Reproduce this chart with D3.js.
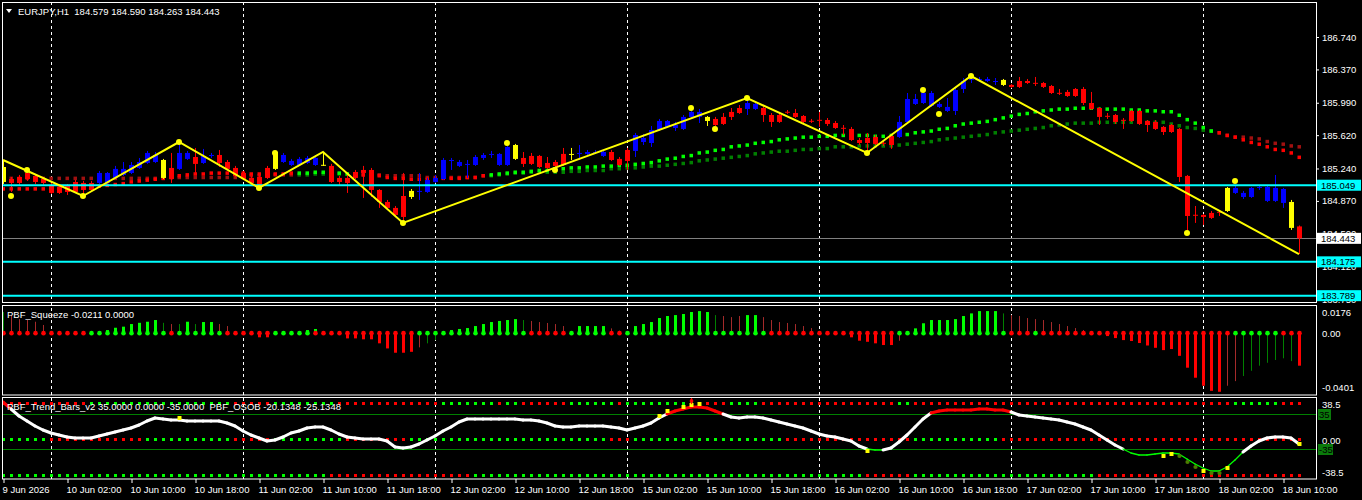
<!DOCTYPE html>
<html>
<head>
<meta charset="utf-8">
<script src="https://cdn.jsdelivr.net/npm/d3@7"></script>
<style>
  body { margin: 0; background: #000; }
  text { font-family: "Liberation Sans", Arial, sans-serif; font-size: 9.5px; fill: #fff; }
</style>
</head>
<body>
<script>
// EURJPY H1, bars 9 Jun 18:00 .. 18 Jun 12:00  [open, high, low, close, tone]
var candles = [
[185.257,185.337,185.063,185.086,'y'],[185.120,185.143,184.972,185.075,'r'],[185.143,185.166,185.052,185.075,'r'],[185.189,185.223,185.098,185.120,'r'],[185.155,185.177,185.063,185.086,'r'],
[185.120,185.143,185.052,185.075,'r'],[185.052,185.075,184.949,184.961,'r'],[185.029,185.052,184.949,184.961,'r'],[185.052,185.063,184.938,184.972,'r'],[185.086,185.109,184.961,184.972,'r'],
[185.075,185.098,184.926,184.995,'r'],[185.075,185.098,184.984,184.995,'r'],[185.075,185.212,185.063,185.189,'b'],[185.075,185.200,185.063,185.189,'b'],[185.132,185.269,185.120,185.235,'b'],
[185.166,185.314,185.155,185.235,'b'],[185.189,185.314,185.177,185.280,'b'],[185.246,185.360,185.235,185.314,'b'],[185.303,185.440,185.292,185.417,'b'],[185.314,185.428,185.303,185.394,'b'],
[185.337,185.349,185.120,185.132,'y'],[185.246,185.417,185.075,185.120,'r'],[185.235,185.542,185.223,185.417,'b'],[185.349,185.440,185.337,185.417,'b'],[185.371,185.474,185.189,185.292,'r'],
[185.303,185.463,185.292,185.383,'b'],[185.392,185.417,185.360,185.394,'b'],[185.394,185.451,185.257,185.303,'r'],[185.314,185.337,185.223,185.235,'r'],[185.246,185.269,185.143,185.155,'r'],
[185.189,185.212,185.109,185.120,'r'],[185.132,185.155,185.052,185.075,'r'],[185.143,185.166,185.018,185.052,'r'],[185.246,185.269,185.120,185.132,'r'],[185.235,185.440,185.223,185.428,'y'],
[185.314,185.417,185.303,185.394,'b'],[185.280,185.349,185.269,185.326,'b'],[185.280,185.371,185.269,185.349,'b'],[185.303,185.383,185.292,185.360,'b'],[185.280,185.383,185.269,185.360,'b'],
[185.282,185.428,185.269,185.280,'y'],[185.269,185.292,185.075,185.086,'r'],[185.132,185.155,185.052,185.086,'r'],[185.132,185.166,184.961,185.075,'r'],[185.200,185.223,185.120,185.132,'r'],
[185.223,185.269,184.904,185.189,'r'],[185.223,185.246,184.915,184.995,'r'],[184.995,185.006,184.790,184.858,'r'],[184.858,184.881,184.767,184.790,'r'],[184.790,184.812,184.698,184.710,'r'],
[184.926,185.189,184.619,184.687,'r'],[184.915,185.006,184.892,184.984,'y'],[184.982,185.189,184.881,184.984,'b'],[184.972,185.132,184.961,185.109,'b'],[185.086,185.166,185.075,185.132,'b'],
[185.120,185.360,185.109,185.337,'b'],[185.335,185.360,185.223,185.337,'b'],[185.269,185.337,185.257,185.314,'b'],[185.290,185.337,185.132,185.292,'b'],[185.280,185.394,185.269,185.371,'b'],
[185.360,185.417,185.337,185.394,'b'],[185.404,185.440,185.360,185.406,'b'],[185.280,185.417,185.269,185.406,'b'],[185.280,185.497,185.269,185.485,'b'],[185.508,185.520,185.337,185.349,'y'],
[185.360,185.428,185.257,185.292,'r'],[185.383,185.417,185.280,185.292,'r'],[185.383,185.394,185.246,185.257,'r'],[185.303,185.371,185.235,185.246,'r'],[185.314,185.337,185.257,185.269,'r'],
[185.406,185.474,185.269,185.280,'r'],[185.404,185.474,185.337,185.406,'y'],[185.415,185.508,185.337,185.417,'b'],[185.406,185.451,185.383,185.428,'b'],[185.426,185.451,185.406,185.428,'b'],
[185.383,185.451,185.371,185.428,'b'],[185.428,185.451,185.326,185.337,'r'],[185.349,185.371,185.269,185.280,'r'],[185.451,185.474,185.223,185.326,'r'],[185.440,185.645,185.371,185.622,'b'],
[185.542,185.633,185.508,185.588,'b'],[185.531,185.725,185.485,185.679,'b'],[185.679,185.805,185.668,185.782,'b'],[185.714,185.793,185.702,185.782,'b'],[185.702,185.771,185.668,185.736,'b'],
[185.691,185.850,185.679,185.828,'b'],[185.828,185.907,185.816,185.885,'b'],[185.828,185.919,185.759,185.885,'b'],[185.828,185.839,185.725,185.782,'y'],[185.805,185.828,185.725,185.736,'r'],
[185.828,185.873,185.736,185.748,'r'],[185.885,185.930,185.793,185.828,'r'],[185.930,185.964,185.862,185.873,'r'],[185.919,186.044,185.850,185.987,'b'],[185.919,185.998,185.907,185.976,'b'],
[185.930,185.953,185.771,185.850,'r'],[185.850,185.873,185.714,185.771,'r'],[185.850,185.885,185.759,185.771,'r'],[185.887,185.907,185.862,185.885,'r'],[185.873,185.919,185.816,185.828,'r'],
[185.839,185.850,185.759,185.771,'r'],[185.784,185.805,185.759,185.782,'r'],[185.795,185.885,185.714,185.793,'r'],[185.793,185.816,185.725,185.748,'r'],[185.759,185.782,185.691,185.702,'r'],
[185.704,185.736,185.622,185.702,'r'],[185.691,185.714,185.554,185.565,'r'],[185.565,185.588,185.508,185.531,'r'],[185.588,185.645,185.417,185.531,'r'],[185.599,185.622,185.508,185.520,'r'],
[185.533,185.554,185.497,185.531,'r'],[185.611,185.633,185.463,185.508,'r'],[185.599,185.839,185.588,185.771,'b'],[185.771,186.101,185.759,186.033,'b'],[185.976,186.090,185.964,186.033,'b'],
[185.987,186.124,185.976,186.101,'b'],[185.953,186.124,185.942,186.101,'b'],[185.942,185.998,185.930,185.976,'b'],[185.896,186.044,185.885,185.942,'b'],[185.896,186.158,185.850,186.135,'b'],
[186.147,186.272,186.101,186.238,'b'],[186.259,186.295,186.215,186.261,'b'],[186.259,186.284,186.227,186.261,'b'],[186.238,186.284,186.227,186.261,'b'],[186.236,186.272,186.193,186.238,'b'],
[186.250,186.261,186.181,186.193,'y'],[186.193,186.204,186.158,186.170,'r'],[186.238,186.284,186.158,186.170,'r'],[186.238,186.261,186.204,186.215,'r'],[186.217,186.284,186.181,186.215,'r'],
[186.215,186.227,186.158,186.170,'r'],[186.181,186.193,186.090,186.101,'r'],[186.103,186.147,186.078,186.101,'r'],[186.113,186.136,186.056,186.067,'r'],[186.147,186.158,186.056,186.067,'r'],
[186.147,186.170,185.964,185.987,'r'],[185.987,186.113,185.907,185.919,'r'],[185.930,185.942,185.736,185.828,'r'],[185.841,185.873,185.805,185.839,'r'],[185.850,185.862,185.748,185.771,'r'],
[185.795,185.816,185.691,185.793,'r'],[185.896,185.907,185.771,185.782,'r'],[185.896,185.907,185.736,185.748,'r'],[185.782,185.793,185.656,185.736,'r'],[185.771,185.793,185.679,185.691,'r'],
[185.714,185.725,185.622,185.656,'r'],[185.736,185.748,185.645,185.656,'r'],[185.691,185.702,185.086,185.143,'r'],[185.155,185.166,184.516,184.698,'r'],[184.712,184.812,184.619,184.710,'r'],
[184.710,184.721,184.596,184.687,'r'],[184.733,184.755,184.664,184.676,'r'],[184.746,184.767,184.698,184.744,'r'],[184.755,185.029,184.744,185.018,'y'],[184.961,185.052,184.949,185.018,'b'],
[184.915,184.984,184.892,184.961,'b'],[184.915,185.029,184.904,185.018,'b'],[185.027,185.052,184.995,185.029,'b'],[184.870,185.040,184.858,185.029,'b'],[184.870,185.166,184.858,185.018,'b'],
[184.847,185.018,184.790,185.006,'b'],[184.858,184.881,184.539,184.562,'y'],[184.579,184.590,184.263,184.443,'r']
];

var maFast = [
185.01,185.01,185.01,185.01,185.01,185.01,185.01,185.02,185.02,185.03,
185.03,185.04,185.04,185.05,185.06,185.07,185.09,185.10,185.11,185.12,
185.13,185.14,185.16,185.17,185.18,185.18,185.19,185.19,185.19,185.19,
185.19,185.18,185.18,185.18,185.18,185.18,185.19,185.19,185.19,185.20,
185.20,185.19,185.19,185.18,185.18,185.17,185.17,185.16,185.14,185.13,
185.13,185.12,185.12,185.12,185.12,185.13,185.13,185.13,185.14,185.14,
185.16,185.17,185.18,185.19,185.20,185.20,185.21,185.22,185.22,185.24,
185.24,185.25,185.25,185.26,185.26,185.27,185.27,185.28,185.28,185.29,
185.30,185.31,185.33,185.35,185.36,185.38,185.39,185.42,185.43,185.45,
185.46,185.49,185.50,185.51,185.53,185.54,185.55,185.57,185.58,185.59,
185.60,185.60,185.61,185.61,185.62,185.62,185.62,185.62,185.62,185.61,
185.61,185.62,185.63,185.63,185.65,185.66,185.67,185.69,185.70,185.73,
185.75,185.76,185.77,185.78,185.80,185.82,185.84,185.86,185.87,185.89,
185.90,185.91,185.92,185.92,185.93,185.93,185.93,185.92,185.92,185.92,
185.92,185.91,185.91,185.90,185.90,185.89,185.89,185.85,185.80,185.76,
185.71,185.67,185.65,185.62,185.60,185.57,185.54,185.52,185.49,185.46,
185.45,185.42,185.37];

var maSlow = [
185.13,185.13,185.13,185.13,185.13,185.13,185.13,185.13,185.13,185.13,
185.13,185.13,185.13,185.13,185.13,185.13,185.13,185.13,185.13,185.13,
185.13,185.14,185.14,185.14,185.14,185.14,185.14,185.14,185.14,185.14,
185.14,185.16,185.16,185.16,185.17,185.17,185.17,185.17,185.17,185.18,
185.18,185.18,185.18,185.18,185.17,185.17,185.17,185.17,185.16,185.16,
185.16,185.16,185.16,185.14,185.14,185.14,185.14,185.14,185.14,185.14,
185.16,185.16,185.17,185.18,185.19,185.19,185.20,185.20,185.20,185.20,
185.20,185.21,185.21,185.22,185.22,185.22,185.24,185.24,185.25,185.25,
185.26,185.27,185.27,185.28,185.29,185.30,185.31,185.33,185.34,185.35,
185.36,185.37,185.38,185.39,185.41,185.42,185.43,185.44,185.44,185.45,
185.46,185.46,185.47,185.47,185.49,185.49,185.49,185.50,185.50,185.50,
185.50,185.50,185.51,185.52,185.53,185.54,185.55,185.57,185.58,185.59,
185.60,185.61,185.62,185.63,185.65,185.66,185.67,185.68,185.69,185.70,
185.71,185.73,185.74,185.75,185.76,185.76,185.76,185.77,185.77,185.77,
185.77,185.77,185.77,185.77,185.77,185.77,185.75,185.73,185.71,185.70,
185.68,185.67,185.65,185.62,185.60,185.60,185.59,185.58,185.55,185.53,
185.52,185.50,185.49];

// trend state of the MA pair, as runs: [state, bars]
var maTrendRuns = [['dn',37],['up',7],['dn',17],['up',91],['dn',11]];

var zigzag = [[0,185.337],[10,184.926],[22,185.542],[32,185.018],[40,185.428],[50,184.619],[93,186.044],[108,185.417],[121,186.295],[162,184.263]];
var signalDots = [[1,184.926],[3,185.223],[10,184.926],[22,185.542],[32,185.018],[34,185.417],[50,184.619],[63,185.531],[69,185.223],
  [86,185.930],[89,185.691],[93,186.044],[108,185.417],[115,186.136],[117,185.862],[121,186.295],[148,184.505],[154,185.098]];

var levels = [185.049, 184.175, 183.789];
var bidPrice = 184.443;
var priceTicks = [186.740, 186.370, 185.990, 185.620, 185.240, 184.870, 184.500, 184.120, 183.750];

// PBF_Squeeze: [value, style]  G/R thick bright, g/r thin dark
var squeeze = [
[0.0137,'g'],[0.0117,'r'],[0.0091,'r'],[0.0085,'r'],[0.0074,'r'],[0.0053,'r'],[0,''],[0,''],[0,''],[0,''],
[0,''],[0,''],[0.0008,'G'],[0.0020,'G'],[0.0035,'G'],[0.0042,'G'],[0.0059,'G'],[0.0067,'G'],[0.0074,'G'],[0.0085,'G'],
[0.0067,'g'],[0.0059,'r'],[0.0059,'g'],[0.0074,'G'],[0.0059,'g'],[0.0072,'G'],[0.0072,'G'],[0.0059,'r'],[0.0046,'r'],[0,''],
[0,''],[-0.0008,'R'],[-0.0027,'R'],[-0.0027,'R'],[0,''],[0,''],[0,''],[0.0005,'G'],[0.0020,'G'],[0.0027,'G'],
[0,''],[0,''],[0,''],[-0.0034,'R'],[-0.0034,'R'],[-0.0040,'R'],[-0.0040,'R'],[-0.0066,'R'],[-0.0099,'R'],[-0.0127,'R'],
[-0.0127,'R'],[-0.0121,'R'],[-0.0092,'r'],[-0.0066,'g'],[-0.0045,'g'],[0,''],[0.0020,'G'],[0.0027,'G'],[0.0033,'G'],[0.0046,'G'],
[0.0059,'G'],[0.0072,'G'],[0.0079,'G'],[0.0085,'G'],[0.0091,'G'],[0.0085,'g'],[0.0079,'r'],[0.0072,'r'],[0.0066,'r'],[0.0059,'r'],
[0.0046,'r'],[0,''],[0.0046,'G'],[0.0046,'G'],[0.0046,'G'],[0.0046,'G'],[0.0031,'r'],[0.0016,'r'],[0,''],[0.0046,'G'],
[0.0059,'G'],[0.0072,'G'],[0.0098,'G'],[0.0111,'G'],[0.0117,'G'],[0.0124,'G'],[0.0137,'G'],[0.0143,'G'],[0.0137,'G'],[0.0117,'g'],
[0.0111,'r'],[0.0104,'r'],[0.0111,'r'],[0.0117,'G'],[0.0117,'G'],[0.0104,'r'],[0.0085,'r'],[0.0072,'r'],[0.0066,'r'],[0.0059,'r'],
[0.0046,'r'],[0.0033,'r'],[0,''],[0,''],[0,''],[0,''],[-0.0027,'R'],[-0.0049,'R'],[-0.0056,'R'],[-0.0066,'R'],
[-0.0077,'R'],[-0.0077,'R'],[-0.0049,'r'],[0,''],[0.0031,'G'],[0.0064,'G'],[0.0085,'G'],[0.0085,'G'],[0.0085,'G'],[0.0091,'G'],
[0.0111,'G'],[0.0128,'G'],[0.0143,'G'],[0.0143,'G'],[0.0143,'G'],[0.0128,'g'],[0.0117,'r'],[0.0111,'r'],[0.0098,'r'],[0.0091,'r'],
[0.0085,'r'],[0.0072,'r'],[0.0059,'r'],[0.0046,'r'],[0.0033,'r'],[0.0020,'r'],[0,''],[0,''],[-0.0019,'R'],[-0.0032,'R'],
[-0.0045,'R'],[-0.0051,'R'],[-0.0064,'R'],[-0.0080,'R'],[-0.0095,'R'],[-0.0110,'R'],[-0.0103,'R'],[-0.0147,'R'],[-0.0224,'R'],[-0.0289,'R'],
[-0.0341,'R'],[-0.0374,'R'],[-0.0380,'R'],[-0.0341,'r'],[-0.0311,'r'],[-0.0278,'g'],[-0.0244,'g'],[-0.0211,'g'],[-0.0192,'g'],[-0.0174,'g'],
[-0.0163,'g'],[-0.0181,'g'],[-0.0211,'R']];
var squeezeDotRuns = [['r',11],['g',10],['r',1],['g',6],['r',6],['g',5],['r',13],['g',6],['g',8],['r',5],['g',5],['r',2],
  ['g',18],['r',16],['g',14],['r',3],['g',1],['r',24],['g',6],['r',3]];
var squeezeTicks = [0.0176, 0, -0.0401];

// PBF_Trend_Bars_v2 line
var trendLine = [
59,45,31,21,11,3,-3,-7,-11,-13,
-13,-13,-9,-5,-1,3,7,13,21,27,
25,23,23,21,21,21,21,21,17,11,
1,-7,-13,-19,-17,-11,-3,1,7,9,
9,3,-5,-11,-13,-15,-15,-15,-19,-31,
-33,-31,-25,-17,-9,1,9,19,25,25,
25,25,25,25,25,23,23,21,17,11,
9,9,11,11,11,11,9,7,3,7,
11,17,27,35,41,45,49,49,47,41,
35,29,27,29,29,27,23,19,15,11,
7,1,-5,-9,-11,-15,-19,-29,-35,-37,
-37,-33,-21,-7,9,25,37,41,43,43,
43,43,45,45,43,43,39,33,31,29,
27,25,23,19,15,9,3,-7,-17,-27,
-35,-43,-47,-47,-45,-43,-43,-45,-55,-65,
-73,-79,-79,-71,-57,-41,-29,-19,-13,-11,
-11,-13,-25];
var trendMarks = [[22,27,'y'],[82,31,'y'],[83,41,'y'],[85,49,'y'],[86,53,'y'],[87,55,'y'],[86,61,'d'],[108,-39,'y'],
  [145,-49,'y'],[146,-45,'y'],[147,-49,'g'],[148,-61,'g'],[149,-71,'g'],[150,-79,'y'],[151,-83,'g'],[152,-83,'g'],[153,-73,'y'],[162,-25,'y']];
var trendLevels = [35, -35];

// PBF_OSOB dot rows at +38.5 / 0 / -38.5, colour runs
var osobRows = [
  {level: 38.5, runs: [['r',11],['g',18],['r',5],['g',8],['r',13],['g',7],['r',1],['g',2],['r',6],['g',6],['r',1],['g',10],['r',3],['g',4],['r',17],['g',2],['r',40],['g',6],['r',3]]},
  {level: 0, runs: [['g',6],['r',12],['g',11],['r',5],['g',9],['r',8],['g',25],['r',3],['g',19],['r',16],['g',11],['r',38]]},
  {level: -38.5, runs: [['g',41],['r',18],['g',49],['r',6],['g',23],['r',26]]}
];

var daySepBars = [6, 30, 54, 78, 102, 126, 150];
var timeTickBars = [0, 8, 16, 24, 32, 40, 48, 56, 64, 72, 80, 88, 96, 104, 112, 120, 128, 136, 144, 152, 160];
var timeTickLabels = ['9 Jun 2026', '10 Jun 02:00', '10 Jun 10:00', '10 Jun 18:00', '11 Jun 02:00', '11 Jun 10:00', '11 Jun 18:00',
  '12 Jun 02:00', '12 Jun 10:00', '12 Jun 18:00', '15 Jun 02:00', '15 Jun 10:00', '15 Jun 18:00', '16 Jun 02:00', '16 Jun 10:00',
  '16 Jun 18:00', '17 Jun 02:00', '17 Jun 10:00', '17 Jun 18:00', '18 Jun 02:00', '18 Jun 10:00'];

function expand(runs) { return runs.flatMap(function(r) { return Array(r[1]).fill(r[0]); }); }

var W = 1362, H = 500, R = 1316;
var FONT = 'Liberation Sans, Arial, sans-serif';
var svg = d3.select('body').append('svg').attr('width', W).attr('height', H);
svg.append('rect').attr('width', W).attr('height', H).attr('fill', '#000');

var x = d3.scaleLinear().domain([0, 162]).range([3, 1299]);
var yMain = d3.scaleLinear().domain([183.751, 187.162]).range([299, 0]);
var ySqz = d3.scaleLinear().domain([-0.0401, 0.0176]).range([395, 306]);
var yDots = d3.scaleLinear().domain([-38.5, 38.5]).range([475, 403]);
var yTrend = d3.scaleLinear().domain([-35, 35]).range([449, 414]);

var defs = svg.append('defs');
[['cMain', 2, 2, R - 2, 301], ['cSqz', 2, 306, R - 2, 89], ['cTr', 2, 397, R - 2, 82]].forEach(function(c) {
  defs.append('clipPath').attr('id', c[0]).append('rect').attr('x', c[1]).attr('y', c[2]).attr('width', c[3]).attr('height', c[4]);
});

// day separators
svg.append('g').selectAll('line').data(daySepBars).join('line')
  .attr('x1', function(d) { return x(d) + 0.5; }).attr('x2', function(d) { return x(d) + 0.5; })
  .attr('y1', 2).attr('y2', 479)
  .attr('stroke', '#fff').attr('stroke-dasharray', '3,3');

// ---------- main panel ----------
var main = svg.append('g').attr('clip-path', 'url(#cMain)');
main.append('line').attr('x1', 2).attr('x2', R).attr('y1', Math.round(yMain(bidPrice)) + 0.5).attr('y2', Math.round(yMain(bidPrice)) + 0.5)
  .attr('stroke', '#808080');

var maTrend = expand(maTrendRuns);
var maColors = {up: ['#00ff00', '#008000'], dn: ['#ff0000', '#a01010']};
[[maSlow, 1], [maFast, 0]].forEach(function(s) {
  main.append('g').selectAll('rect').data(s[0]).join('rect')
    .attr('x', function(d, i) { return x(i) - 1.5; }).attr('y', function(d) { return yMain(d) - 1.5; })
    .attr('width', 3.5).attr('height', 3.5)
    .attr('fill', function(d, i) { return maColors[maTrend[i]][s[1]]; });
});

var toneColor = {b: '#0000ff', r: '#ff0000', y: '#ffff00'};
var cg = main.append('g').selectAll('g').data(candles).join('g');
cg.append('line')
  .attr('x1', function(d, i) { return x(i) + 0.5; }).attr('x2', function(d, i) { return x(i) + 0.5; })
  .attr('y1', function(d) { return yMain(d[1]); }).attr('y2', function(d) { return yMain(d[2]); })
  .attr('stroke', function(d) { return toneColor[d[4]]; });
cg.append('rect')
  .attr('x', function(d, i) { return x(i) - 2; }).attr('width', 5)
  .attr('y', function(d) { return yMain(Math.max(d[0], d[3])); })
  .attr('height', function(d) { return Math.max(1, yMain(Math.min(d[0], d[3])) - yMain(Math.max(d[0], d[3]))); })
  .attr('fill', function(d) { return toneColor[d[4]]; });

main.selectAll('line.lvl').data(levels).join('line').attr('class', 'lvl')
  .attr('x1', 2).attr('x2', R).attr('y1', function(d) { return yMain(d); }).attr('y2', function(d) { return yMain(d); })
  .attr('stroke', '#00ffff').attr('stroke-width', 2);

main.append('path').datum(zigzag)
  .attr('d', d3.line().x(function(d) { return x(d[0]); }).y(function(d) { return yMain(d[1]); }))
  .attr('fill', 'none').attr('stroke', '#ffff00').attr('stroke-width', 2);
main.selectAll('circle').data(signalDots).join('circle')
  .attr('cx', function(d) { return x(d[0]); }).attr('cy', function(d) { return yMain(d[1]); })
  .attr('r', 3).attr('fill', '#ffff00');

// ---------- squeeze panel ----------
var sq = svg.append('g').attr('clip-path', 'url(#cSqz)');
var sqColor = {G: '#00ff00', R: '#ff0000', g: '#008000', r: '#a52a2a'};
sq.selectAll('rect').data(squeeze.map(function(d, i) { return [i, d[0], d[1]]; }).filter(function(d) { return d[2]; })).join('rect')
  .attr('x', function(d) { return d[2] === d[2].toUpperCase() ? x(d[0]) - 1 : x(d[0]); })
  .attr('width', function(d) { return d[2] === d[2].toUpperCase() ? 3 : 1; })
  .attr('y', function(d) { return Math.min(ySqz(0), ySqz(d[1])); })
  .attr('height', function(d) { return Math.abs(ySqz(d[1]) - ySqz(0)); })
  .attr('fill', function(d) { return sqColor[d[2]]; });
var sqDots = expand(squeezeDotRuns);
sq.selectAll('circle').data(sqDots).join('circle')
  .attr('cx', function(d, i) { return x(i) + 0.5; }).attr('cy', ySqz(0))
  .attr('r', 2.3).attr('fill', function(d) { return d === 'g' ? '#00ff00' : '#ff0000'; });

// ---------- trend panel ----------
var tr = svg.append('g').attr('clip-path', 'url(#cTr)');
tr.selectAll('line.lv').data(trendLevels).join('line').attr('class', 'lv')
  .attr('x1', 2).attr('x2', R).attr('y1', function(d) { return yTrend(d) + 0.5; }).attr('y2', function(d) { return yTrend(d) + 0.5; })
  .attr('stroke', '#008000');
osobRows.forEach(function(row) {
  tr.append('g').selectAll('rect').data(expand(row.runs)).join('rect')
    .attr('x', function(d, i) { return x(i) - 1; }).attr('y', yDots(row.level) - 1)
    .attr('width', 3).attr('height', 3)
    .attr('fill', function(d) { return d === 'g' ? '#00ff00' : '#ff0000'; });
});
var segs = d3.pairs(trendLine.map(function(v, i) { return [i, v]; }));
tr.selectAll('path.seg').data(segs).join('path').attr('class', 'seg')
  .attr('d', function(s) { return d3.line().x(function(d) { return x(d[0]); }).y(function(d) { return yTrend(d[1]); })(s); })
  .attr('fill', 'none').attr('stroke-linecap', 'round')
  .attr('stroke', function(s) { return (s[0][1] >= 35 && s[1][1] >= 35) ? '#ff0000' : (s[0][1] <= -35 && s[1][1] <= -35) ? '#00ff00' : '#fff'; })
  .attr('stroke-width', function(s) { return (s[0][1] <= -35 && s[1][1] <= -35) ? 1.3 : 3; });
tr.selectAll('.mk').data(trendMarks).join('path').attr('class', 'mk')
  .attr('transform', function(d) { return 'translate(' + (x(d[0]) + 0.5) + ',' + yTrend(d[1]) + ')'; })
  .attr('d', function(d) { return d[2] === 'g' ? d3.symbol(d3.symbolCircle, 14)() : d[2] === 'd' ? d3.symbol(d3.symbolDiamond, 14)() : 'M-2,-2H2V2H-2Z'; })
  .attr('fill', function(d) { return d[2] === 'g' ? '#4b7d00' : d[2] === 'd' ? '#ff0000' : '#ffff00'; });

// ---------- frames ----------
[[2.5, 2.5, R - 2, 300], [2.5, 305.5, R - 2, 89.5], [2.5, 397.5, R - 2, 81.5]].forEach(function(f) {
  svg.append('rect').attr('x', f[0]).attr('y', f[1]).attr('width', f[2]).attr('height', f[3])
    .attr('fill', 'none').attr('stroke', '#fff');
});

// ---------- axes ----------
function styleText(sel) { sel.attr('fill', '#fff').style('font-size', '9.5px').style('font-family', FONT); }

var axMain = svg.append('g').attr('transform', 'translate(' + R + ',0)')
  .call(d3.axisRight(yMain).tickValues(priceTicks).tickFormat(d3.format('.3f')).tickSize(3).tickPadding(3));
axMain.select('.domain').remove();
axMain.selectAll('line').attr('stroke', '#fff');
styleText(axMain.selectAll('text'));

function tag(y, label, bg) {
  svg.append('rect').attr('x', R + 1).attr('y', y - 5.5).attr('width', 44).attr('height', 11).attr('fill', bg);
  svg.append('text').attr('x', R + 5).attr('y', y + 3.5).style('fill', '#000').text(label);
}
levels.forEach(function(l) { tag(yMain(l), l.toFixed(3), '#00ffff'); });
tag(yMain(bidPrice), bidPrice.toFixed(3), '#fff');

var axSq = svg.append('g').attr('transform', 'translate(' + R + ',0)')
  .call(d3.axisRight(ySqz).tickValues(squeezeTicks).tickFormat(function(d) { return d === 0 ? '0.00' : d.toFixed(4); }).tickSize(0).tickPadding(6));
axSq.select('.domain').remove();
styleText(axSq.selectAll('text'));
axSq.selectAll('text').attr('dy', function(d) { return d > 0 ? '1.05em' : d < 0 ? '-0.45em' : '0.32em'; });

var axTr = svg.append('g').attr('transform', 'translate(' + R + ',0)')
  .call(d3.axisRight(yDots).tickValues([38.5, 0, -38.5]).tickFormat(function(d) { return d === 0 ? '0.00' : d; }).tickSize(0).tickPadding(6));
axTr.select('.domain').remove();
styleText(axTr.selectAll('text'));
axTr.selectAll('text').attr('dy', function(d) { return d < 0 ? '0em' : '0.45em'; });
trendLevels.forEach(function(l) {
  svg.append('rect').attr('x', R + 2).attr('y', yTrend(l) - 5).attr('width', l > 0 ? 13 : 15).attr('height', 11).attr('fill', '#0a7a0a');
  svg.append('text').attr('x', R + 3).attr('y', yTrend(l) + 4).style('fill', '#000').text(l);
});

var axX = svg.append('g').attr('transform', 'translate(0,479)')
  .call(d3.axisBottom(x).tickValues(timeTickBars).tickFormat(function(d, i) { return timeTickLabels[i]; }).tickSize(4).tickPadding(3));
axX.select('.domain').remove();
axX.selectAll('line').attr('stroke', '#fff').attr('transform', 'translate(0.5,0)');
styleText(axX.selectAll('text'));
axX.selectAll('text').attr('text-anchor', 'start').attr('dx', -1);

// ---------- titles ----------
svg.append('path').attr('d', 'M6,9H12L9,13Z').attr('fill', '#fff');
svg.append('text').attr('x', 18).attr('y', 15).style('white-space', 'pre').text('EURJPY,H1  184.579 184.590 184.263 184.443');
svg.append('text').attr('x', 7).attr('y', 318).text('PBF_Squeeze -0.0211 0.0000');
svg.append('text').attr('x', 7).attr('y', 410).style('white-space', 'pre')
  .text('PBF_Trend_Bars_v2 35.0000 0.0000 -35.0000  PBF_OSOB -20.1348 -25.1348');
</script>
</body>
</html>
